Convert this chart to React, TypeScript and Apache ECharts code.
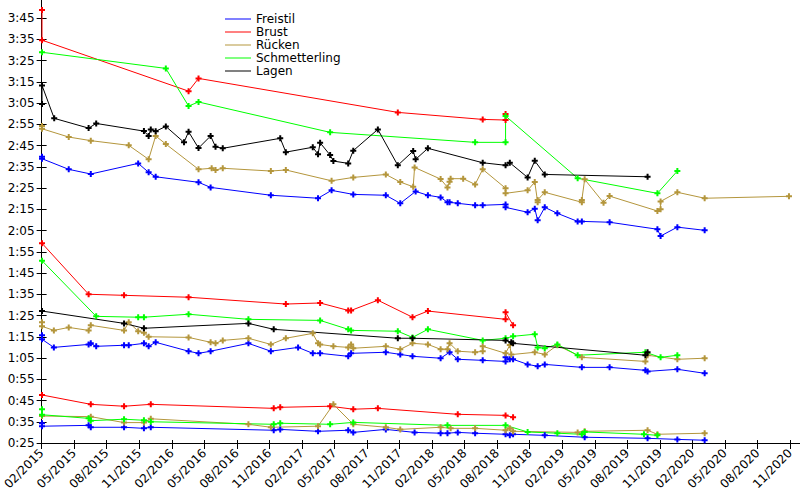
import React, { useEffect, useRef } from "react";
import * as echarts from "echarts";

type Pt = [string, number];

const strokes = ["Freistil", "Brust", "Rücken", "Schmetterling", "Lagen"];
const strokeColors = ["#0000ff", "#ff0000", "#b4963c", "#00ff00", "#000000"];

// Freistil
const freistil200: Pt[] = [
  ["2015-02-02", 159.7], ["2015-02-02", 158.8], ["2015-04-16", 153.8], ["2015-06-17", 151.6], ["2015-10-29", 156.6],
  ["2015-11-27", 152.4], ["2015-12-17", 150.3], ["2016-04-15", 147.7], ["2016-05-19", 145.3], ["2016-11-05", 141.6],
  ["2017-03-16", 140.2], ["2017-04-23", 143.9], ["2017-06-23", 142], ["2017-09-23", 141.6], ["2017-11-03", 137.8],
  ["2017-12-16", 143.4], ["2018-01-20", 141.6], ["2018-02-23", 140.6], ["2018-03-14", 138.3], ["2018-03-20", 138.3],
  ["2018-04-12", 137.8], ["2018-05-31", 136.9], ["2018-06-21", 136.9], ["2018-08-25", 137.3], ["2018-08-25", 135.9],
  ["2018-10-26", 133.6], ["2018-11-15", 135.3], ["2018-11-23", 129.8], ["2018-12-13", 135.9], ["2019-01-18", 133.1],
  ["2019-03-14", 129.3], ["2019-03-26", 129.3], ["2019-06-12", 128.9], ["2019-10-25", 125.6], ["2019-11-03", 122.4],
  ["2019-12-20", 126.6], ["2020-03-05", 125.1],
];
const freistil100: Pt[] = [
  ["2015-02-02", 75.7], ["2015-02-02", 73.8], ["2015-03-05", 70], ["2015-06-11", 71.4], ["2015-06-17", 71.9],
  ["2015-07-02", 70.5], ["2015-09-19", 71], ["2015-10-02", 71], ["2015-11-14", 71.9], ["2015-11-27", 70.5],
  ["2015-12-17", 72.4], ["2016-03-18", 68.2], ["2016-04-15", 67.2], ["2016-05-19", 68.2], ["2016-09-03", 71.9],
  ["2016-11-05", 68.2], ["2017-01-21", 70], ["2017-03-01", 67.2], ["2017-03-22", 67.2], ["2017-06-09", 65.8],
  ["2017-06-17", 67.2], ["2017-09-23", 67.7], ["2017-11-03", 66.7], ["2017-12-07", 65.8], ["2018-02-23", 64.9],
  ["2018-03-20", 67.7], ["2018-04-12", 64.4], ["2018-06-21", 63.9], ["2018-08-25", 63.4], ["2018-08-25", 65.3],
  ["2018-09-06", 64.4], ["2018-09-15", 64.4], ["2018-10-26", 62], ["2018-11-23", 61.1], ["2018-12-13", 62],
  ["2019-03-26", 60.6], ["2019-06-12", 60.6], ["2019-09-21", 59.2], ["2019-09-27", 58.7], ["2019-12-20", 59.7],
  ["2020-03-05", 57.8],
];
const freistil50: Pt[] = [
  ["2015-02-02", 34.3], ["2015-02-02", 32.9], ["2015-06-11", 33.3], ["2015-06-17", 32.4], ["2015-09-19", 32.4],
  ["2015-11-14", 31.9], ["2015-12-03", 32.4], ["2016-11-13", 31], ["2016-12-01", 31.4], ["2017-03-16", 30.5],
  ["2017-06-09", 31], ["2017-06-23", 30], ["2017-09-23", 31.4], ["2017-12-13", 30], ["2018-02-23", 29.6],
  ["2018-03-14", 29.6], ["2018-04-12", 30], ["2018-05-31", 29.6], ["2018-08-25", 29.1], ["2018-09-06", 28.6],
  ["2018-09-15", 29.1], ["2018-12-13", 28.6], ["2019-04-03", 27.7], ["2019-09-27", 27.2], ["2019-12-20", 26.7],
  ["2020-03-05", 26.3],
];

// Brust
const brust200: Pt[] = [
  ["2015-02-02", 228.8], ["2015-02-02", 214.6], ["2016-03-18", 190.6], ["2016-04-15", 196.6], ["2017-10-27", 180.6],
  ["2018-06-21", 177.3], ["2018-08-25", 177.0], ["2018-08-25", 179.8],
];
const brust100: Pt[] = [
  ["2015-02-02", 119], ["2015-06-11", 95], ["2015-09-19", 94.5], ["2016-03-18", 93.6], ["2016-12-17", 90.4],
  ["2017-03-22", 90.9], ["2017-06-09", 87.4], ["2017-06-17", 87.4], ["2017-09-01", 92.2], ["2017-12-07", 84.2],
  ["2018-01-20", 87.1], ["2018-08-25", 83.2], ["2018-08-25", 86.5], ["2018-09-15", 80.4],
];
const brust50: Pt[] = [
  ["2015-02-02", 47.6], ["2015-06-17", 43.2], ["2015-09-19", 42.3], ["2015-12-03", 43.2], ["2016-11-13", 41.3],
  ["2016-12-01", 41.8], ["2017-04-19", 42.3], ["2017-06-23", 40.9], ["2017-09-01", 41.3], ["2018-04-12", 38.5],
  ["2018-08-25", 38], ["2018-09-15", 37.1],
];

// Rücken
const ruecken200: Pt[] = [
  ["2015-02-02", 174.2], ["2015-02-02", 172.9], ["2015-04-16", 169], ["2015-06-17", 167.3], ["2015-10-02", 165.1],
  ["2015-11-27", 158.5], ["2015-12-17", 169.5], ["2016-01-15", 165.7], ["2016-04-15", 153.8], ["2016-05-22", 154.3],
  ["2016-06-02", 153.5], ["2016-06-22", 154.3], ["2016-11-05", 153], ["2016-12-17", 153.5], ["2017-04-23", 148.4],
  ["2017-06-23", 150], ["2017-09-23", 151.4], ["2017-11-03", 147.8], ["2017-12-09", 145.6], ["2017-12-13", 154.7],
  ["2018-02-23", 149.2], ["2018-03-14", 145.3], ["2018-03-20", 148], ["2018-03-23", 149.4], ["2018-04-27", 149.4],
  ["2018-05-31", 146.7], ["2018-06-21", 153.8], ["2018-08-25", 144.9], ["2018-08-25", 142.5], ["2018-10-26", 143.9],
  ["2018-11-15", 147.8], ["2018-11-23", 138.3], ["2018-11-23", 139.4], ["2018-12-13", 143], ["2019-03-26", 138.3],
  ["2019-03-26", 139.4], ["2019-04-03", 149.1], ["2019-05-26", 138.1], ["2019-06-12", 141.2], ["2019-10-25", 134.2],
  ["2019-11-03", 135], ["2019-11-03", 138.7], ["2019-12-20", 143], ["2020-03-05", 140.2], ["2020-10-29", 141.1],
];
const ruecken100: Pt[] = [
  ["2015-02-02", 81.8], ["2015-02-02", 79.9], ["2015-03-05", 78], ["2015-04-16", 79.4], ["2015-06-11", 78],
  ["2015-06-17", 80.4], ["2015-09-19", 78], ["2015-10-02", 81.8], ["2015-10-29", 77.6], ["2015-11-14", 76.9],
  ["2015-11-27", 75], ["2016-03-18", 74.7], ["2016-05-19", 72.4], ["2016-06-02", 71.9], ["2016-06-22", 73.3],
  ["2016-09-03", 74.3], ["2016-11-05", 71.4], ["2016-12-17", 74.3], ["2017-03-01", 76.6], ["2017-03-16", 71.9],
  ["2017-03-22", 71.4], ["2017-04-28", 70.5], ["2017-06-09", 70], ["2017-06-17", 71.4], ["2017-06-23", 69.6],
  ["2017-09-23", 70.5], ["2017-11-03", 69.1], ["2017-12-07", 71.9], ["2018-01-20", 71.4], ["2018-02-23", 69.1],
  ["2018-03-14", 69.1], ["2018-03-20", 71.9], ["2018-04-12", 68.2], ["2018-05-31", 67.7], ["2018-06-21", 68.2],
  ["2018-06-21", 70.5], ["2018-08-25", 67.2], ["2018-09-06", 71.1], ["2018-09-10", 66.6], ["2018-11-15", 67.7],
  ["2018-12-13", 66.7], ["2019-01-18", 71], ["2019-03-26", 65.3], ["2019-09-21", 63.4], ["2019-09-27", 66.3],
  ["2019-12-20", 64.4], ["2020-03-05", 64.9],
];
const ruecken50: Pt[] = [
  ["2015-02-02", 37.7], ["2015-06-17", 37.4], ["2015-09-19", 34.6], ["2015-11-14", 34.6], ["2015-12-03", 36.4],
  ["2016-09-03", 33.8], ["2016-11-05", 32.4], ["2017-03-16", 32.9], ["2017-04-28", 43.2], ["2017-06-23", 33.8],
  ["2017-09-23", 32.4], ["2017-11-03", 31.4], ["2018-02-23", 32.4], ["2018-03-23", 31.9], ["2018-05-31", 31.9],
  ["2018-08-25", 31], ["2018-09-06", 31.9], ["2018-09-15", 30.5], ["2019-03-14", 30], ["2019-04-03", 30.5],
  ["2019-09-27", 31], ["2019-10-25", 29.1], ["2020-03-05", 29.6],
];

// Schmetterling
const schmetterling200: Pt[] = [
  ["2015-02-02", 208.9], ["2016-01-15", 201.3], ["2016-03-18", 183.6], ["2016-04-15", 185.5], ["2017-04-19", 171.2],
  ["2018-05-31", 166.5], ["2018-08-25", 166.5], ["2018-08-25", 178.9], ["2019-03-14", 149.6], ["2019-10-25", 142.5],
  ["2019-12-20", 153],
];
const schmetterling100: Pt[] = [
  ["2015-02-02", 110.8], ["2015-07-02", 84.6], ["2015-10-29", 84.2], ["2015-11-14", 84.2], ["2016-03-18", 85.6],
  ["2016-09-03", 83.2], ["2017-03-22", 82.7], ["2017-06-09", 78.5], ["2017-06-17", 78], ["2017-10-27", 77.6],
  ["2017-12-07", 74.7], ["2018-01-20", 78.5], ["2018-06-21", 73.3], ["2018-08-25", 74.3], ["2018-09-15", 75.2],
  ["2018-11-15", 76.2], ["2018-11-23", 70], ["2018-12-13", 69.6], ["2019-01-18", 71.4], ["2019-03-14", 66.3],
  ["2019-09-21", 67.7], ["2019-11-03", 65.3], ["2019-12-20", 66.3],
];
const schmetterling50: Pt[] = [
  ["2015-02-02", 40.9], ["2015-02-02", 38.3], ["2015-06-11", 36.6], ["2015-06-17", 35.5], ["2015-09-19", 36.2],
  ["2015-11-14", 35.7], ["2015-12-03", 35], ["2016-11-13", 33.8], ["2016-12-01", 34.3], ["2017-04-19", 33.8],
  ["2017-06-23", 34.7], ["2018-03-14", 33.3], ["2018-08-25", 33.3], ["2018-10-26", 30.2], ["2019-01-18", 29.6],
  ["2019-03-26", 29.1], ["2019-04-03", 30.2], ["2019-09-17", 29.1], ["2019-10-25", 28.6],
];

// Lagen
const lagen200: Pt[] = [
  ["2015-02-02", 184.5], ["2015-02-02", 193.3], ["2015-03-06", 177.8], ["2015-06-11", 173.2], ["2015-07-02", 175.4],
  ["2015-11-14", 171.8], ["2015-11-27", 169.5], ["2015-12-03", 172.6], ["2015-12-17", 171.7], ["2016-01-15", 174],
  ["2016-03-05", 166.5], ["2016-03-18", 171.5], ["2016-04-15", 163.8], ["2016-05-19", 169.5], ["2016-06-02", 164.4],
  ["2016-06-22", 163.7], ["2016-12-01", 168.4], ["2016-12-17", 161.9], ["2017-03-01", 164.2], ["2017-03-16", 160.9],
  ["2017-03-22", 166.3], ["2017-04-19", 160.5], ["2017-04-28", 157.7], ["2017-06-09", 156.6], ["2017-06-23", 162.6],
  ["2017-09-01", 172.6], ["2017-10-27", 155.7], ["2017-12-09", 162.4], ["2017-12-16", 158.5], ["2018-01-20", 163.7],
  ["2018-06-21", 156.9], ["2018-08-25", 155.7], ["2018-09-06", 156.9], ["2018-10-26", 150], ["2018-11-15", 157.8],
  ["2018-12-13", 151.4], ["2019-09-27", 150.3],
];
const lagen100: Pt[] = [
  ["2015-02-02", 87.1], ["2015-09-19", 81.3], ["2015-11-14", 79], ["2016-09-03", 81.3], ["2016-11-13", 78.5],
  ["2017-10-27", 74.3], ["2017-12-07", 74.3], ["2018-08-25", 73.3], ["2018-09-10", 72.4], ["2018-09-15", 71.9],
  ["2019-09-21", 66.3], ["2019-09-27", 67.7],
];

const seriesByStroke: Pt[][][] = [
  [freistil200, freistil100, freistil50],
  [brust200, brust100, brust50],
  [ruecken200, ruecken100, ruecken50],
  [schmetterling200, schmetterling100, schmetterling50],
  [lagen200, lagen100],
];

// y tick values (seconds) and x tick values (months since 02/2015)
const yTicks: number[] = [25, 35, 45, 55, 65, 75, 85, 95, 105, 115, 125, 135, 145, 155, 165, 175, 185, 195, 205, 215, 225];
const xTicks: number[] = [0, 3, 6, 9, 12, 15, 18, 21, 24, 27, 30, 33, 36, 39, 42, 45, 48, 51, 54, 57, 60, 63, 66, 69];

function toMonth(d: string): number {
  const [y, mo, da] = d.split("-").map(Number);
  const dim = new Date(y, mo, 0).getDate();
  return (y - 2015) * 12 + (mo - 2) + (da - 1) / dim;
}
function fmtMonth(v: number): string {
  const k = Math.round(v);
  const mon = ((k + 1) % 12) + 1;
  const yr = 2015 + Math.floor((k + 1) / 12);
  return (mon < 10 ? "0" : "") + mon + "/" + yr;
}
function fmtTime(v: number): string {
  const m = Math.floor(v / 60);
  const s = Math.round(v - m * 60);
  return m + ":" + (s < 10 ? "0" : "") + s;
}

const plus = "path://M2,0h2v2h2v2h-2v2h-2v-2h-2v-2h2z";
const FONT = "DejaVu Sans";

export default function App() {
  const ref = useRef<HTMLDivElement>(null);
  useEffect(() => {
    if (!ref.current) return;
    const chart = echarts.init(ref.current, undefined, { renderer: "svg" });
    const series: any[] = [];
    seriesByStroke.forEach((group, i) => {
      group.forEach((arr) => {
        series.push({
          type: "line",
          name: strokes[i],
          data: arr.map(([d, v]) => [toMonth(d), v]),
          color: strokeColors[i],
          symbol: plus,
          symbolSize: 6,
          showAllSymbol: true,
          lineStyle: { width: 1, color: strokeColors[i] },
          itemStyle: { color: strokeColors[i] },
          emphasis: { disabled: true },
          xAxisIndex: 0,
          yAxisIndex: 0,
        });
      });
    });
    const xMax = 69.92;
    const yMin = 25;
    const yMax = 233.5;
    chart.setOption({
      animation: false,
      textStyle: { fontFamily: FONT },
      grid: { left: 40, right: 0, top: 0, bottom: 57, containLabel: false },
      legend: {
        data: strokes.map((n, i) => ({
          name: n,
          icon: "rect",
          itemStyle: { color: strokeColors[i], borderWidth: 0 },
        })),
        orient: "vertical",
        left: 220,
        top: 7.5,
        itemWidth: 26,
        itemHeight: 1,
        itemGap: 0,
        textStyle: { fontFamily: FONT, fontSize: 12, color: "#000", lineHeight: 13 },
        selectedMode: false,
      },
      xAxis: [
        {
          type: "value",
          min: 0,
          max: xMax,
          interval: 3,
          position: "bottom",
          splitLine: { show: false },
          axisLine: { show: true, lineStyle: { color: "#000", width: 1 } },
          axisTick: { show: true, length: 6, customValues: xTicks, lineStyle: { color: "#000" } },
          axisLabel: {
            customValues: xTicks,
            formatter: (v: number) => fmtMonth(v),
            rotate: 45,
            margin: 8,
            fontFamily: FONT,
            fontSize: 12,
            color: "#000",
          },
        },
        {
          type: "value",
          min: 0,
          max: xMax,
          interval: 3,
          position: "bottom",
          splitLine: { show: false },
          axisLine: { show: false },
          axisTick: { show: true, inside: true, length: 3, customValues: xTicks, lineStyle: { color: "#000" } },
          axisLabel: { show: false },
        },
      ],
      yAxis: [
        {
          type: "value",
          min: yMin,
          max: yMax,
          interval: 10,
          position: "left",
          splitLine: { show: false },
          axisLine: { show: true, lineStyle: { color: "#000", width: 1 } },
          axisTick: { show: true, length: 5, customValues: yTicks, lineStyle: { color: "#000" } },
          axisLabel: {
            customValues: yTicks,
            formatter: (v: number) => fmtTime(v),
            margin: 7,
            fontFamily: FONT,
            fontSize: 12,
            color: "#000",
          },
        },
        {
          type: "value",
          min: yMin,
          max: yMax,
          interval: 10,
          position: "left",
          splitLine: { show: false },
          axisLine: { show: false },
          axisTick: { show: true, inside: true, length: 5, customValues: yTicks, lineStyle: { color: "#000" } },
          axisLabel: { show: false },
        },
      ],
      series,
    });
    return () => chart.dispose();
  }, []);
  return <div ref={ref} style={{ width: 800, height: 500, position: "absolute", left: 0, top: 0, background: "#fff" }} />;
}
